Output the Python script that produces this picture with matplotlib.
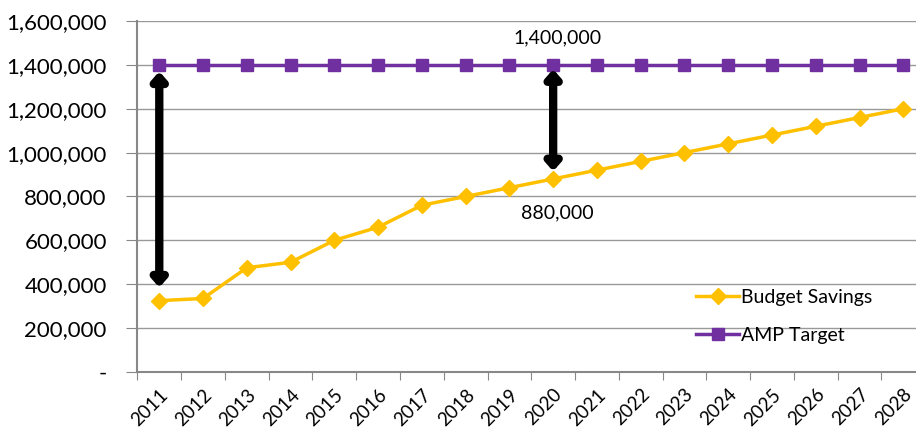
import numpy as np
import matplotlib.pyplot as plt
from matplotlib.ticker import FuncFormatter

plt.rcParams['font.family'] = ['Lato', 'DejaVu Sans']

years = [str(y) for y in range(2011, 2029)]
budget_savings = [325000, 335000, 475000, 500000, 600000, 660000, 760000, 800000, 840000,
                  880000, 920000, 960000, 1000000, 1040000, 1080000, 1120000, 1160000, 1200000]
amp_target = [1400000] * len(years)

x = np.arange(len(years))

fig = plt.figure(figsize=(9.16, 4.29), dpi=100)
ax = fig.add_axes([0.150, 0.133, 0.860, 0.818])

ax.plot(x, budget_savings, color='#FFC000', lw=2.5, marker='D', ms=8, label='Budget Savings', zorder=3)
ax.plot(x, amp_target, color='#7030A0', lw=2.5, marker='s', ms=9, label='AMP Target', zorder=3)

# gap arrows
arrow = dict(arrowstyle='<|-|>,head_length=0.45,head_width=0.4', color='black', lw=6, shrinkA=0, shrinkB=0)
ax.annotate('', xy=(0, 1370000), xytext=(0, 385000), arrowprops=arrow, zorder=4)
ax.annotate('', xy=(9, 1380000), xytext=(9, 915000), arrowprops=arrow, zorder=4)
ax.text(9.1, 1525000, '1,400,000', ha='center', va='center', fontsize=14)
ax.text(9.1, 726000, '880,000', ha='center', va='center', fontsize=14)

ax.set_xlim(-0.5, len(years) - 0.5)
ax.set_ylim(0, 1600000)
ax.set_yticks(np.arange(0, 1600001, 200000))
ax.yaxis.set_major_formatter(FuncFormatter(lambda v, p: '-' if v == 0 else f'{int(v):,}'))
ax.tick_params(axis='y', labelsize=16, length=8, color='#888888', pad=14)
ax.grid(axis='y', color='#999999', lw=1)
ax.set_axisbelow(True)

ax.set_xticks(np.arange(-0.5, len(years), 1))
ax.set_xticklabels([])
ax.set_xticks(x, minor=True)
ax.set_xticklabels(years, minor=True, rotation=45, ha='right', rotation_mode='anchor', fontsize=13.5)
ax.tick_params(axis='x', which='major', length=6, color='#888888')
ax.tick_params(axis='x', which='minor', length=0, pad=10)

for s in ['top', 'right']:
    ax.spines[s].set_visible(False)
for s in ['left', 'bottom']:
    ax.spines[s].set_color('#888888')
    ax.spines[s].set_linewidth(1.5)

ax.legend(loc='lower right', bbox_to_anchor=(0.955, 0.03), frameon=False, fontsize=14,
          handlelength=2.2, handletextpad=0.1, labelspacing=1.1)

fig.savefig('out.png', dpi=100)
